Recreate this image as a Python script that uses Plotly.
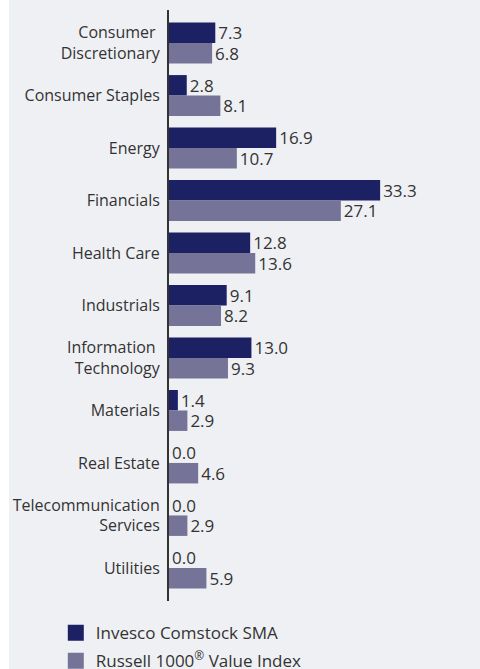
import plotly.graph_objects as go

categories = ["Consumer\u00a0<br>Discretionary", "Consumer Staples", "Energy", "Financials",
              "Health Care", "Industrials", "Information\u00a0<br>Technology", "Materials",
              "Real Estate", "Telecommunication<br>Services", "Utilities"]
sma_values = [7.3, 2.8, 16.9, 33.3, 12.8, 9.1, 13.0, 1.4, 0.0, 0.0, 0.0]
index_values = [6.8, 8.1, 10.7, 27.1, 13.6, 8.2, 9.3, 2.9, 4.6, 2.9, 5.9]
series_names = ["Invesco Comstock SMA", "Russell 1000<sup>®</sup> Value Index"]

DARK = "#1c2163"
LIGHT = "#767399"
BG = "#eff0f3"
FONT = "Open Sans"
TXT = "#333333"

fig = go.Figure()
series = [(series_names[0], sma_values, DARK), (series_names[1], index_values, LIGHT)]
for name, vals, col in series:
    fig.add_trace(go.Bar(
        y=categories, x=vals, orientation="h", name=name, showlegend=False,
        marker=dict(color=col, line=dict(width=0)),
        text=[f"{v:.1f}" for v in vals], textposition="outside",
        textfont=dict(size=17, color=TXT, family=FONT),
        constraintext="none", cliponaxis=False,
    ))
# legend entries with larger square swatches
for i, (name, vals, col) in enumerate(series):
    fig.add_trace(go.Scatter(
        x=[None], y=[None], mode="markers", name=name, legendgroup=f"g{i}",
        marker=dict(symbol="square", size=16, color=col, line=dict(width=0)),
        showlegend=True,
    ))

fig.update_layout(
    width=480, height=669,
    margin=dict(l=169, r=0, t=10, b=68, autoexpand=False),
    paper_bgcolor=BG, plot_bgcolor=BG,
    barmode="group", bargap=0.22, bargroupgap=0,
    font=dict(family=FONT, size=16, color=TXT),
    showlegend=True,
    legend=dict(orientation="v", x=-0.364, xanchor="left", y=-0.024, yanchor="top",
                traceorder="grouped", tracegroupgap=3,
                font=dict(size=17, color=TXT, family=FONT),
                bgcolor="rgba(0,0,0,0)", itemclick=False),
    xaxis=dict(range=[0, 49.05], visible=False, showgrid=False, zeroline=False),
    yaxis=dict(range=[10.63, -0.63], showgrid=False, zeroline=False, showline=True,
               linecolor="#333333", linewidth=2, ticks="", ticklabelstandoff=4,
               automargin=False,
               tickfont=dict(size=16, color=TXT, family=FONT)),
    shapes=[dict(type="rect", xref="paper", yref="paper",
                 x0=-169/311, x1=(9-169)/311, y0=-1, y1=2,
                 fillcolor="white", line=dict(width=0), layer="below")],
)

fig.write_html("out.html")
